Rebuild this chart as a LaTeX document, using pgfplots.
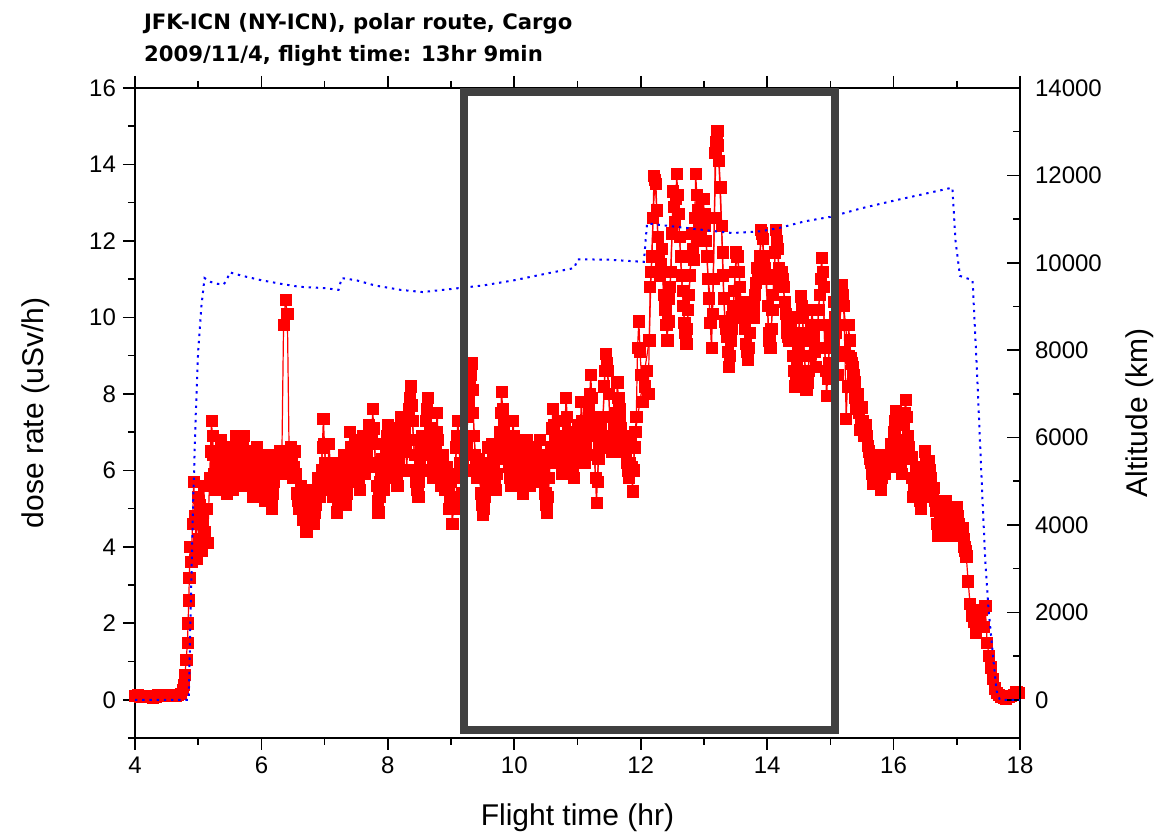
\documentclass[border=0pt]{standalone}
\usepackage{fontspec}
\setmainfont{Liberation Sans}
\newfontfamily\titlefont{DejaVu Sans}
\usepackage{pgfplots}
\pgfplotsset{compat=1.18}
\usepackage{pgfplotstable}
\definecolor{boxgray}{RGB}{64,64,64}

\pgfplotstableread{
t d
4.00 0.10
4.04 0.12
4.08 0.09
4.12 0.11
4.16 0.07
4.20 0.08
4.24 0.10
4.28 0.06
4.32 0.08
4.36 0.12
4.40 0.14
4.44 0.11
4.48 0.13
4.52 0.12
4.56 0.10
4.60 0.12
4.64 0.11
4.68 0.13
4.72 0.16
4.75 0.25
4.77 0.40
4.79 0.65
4.81 1.05
4.83 1.50
4.84 2.00
4.85 2.60
4.86 3.20
4.87 4.00
4.89 3.60
4.91 4.60
4.93 5.70
4.95 4.80
4.97 3.70
4.99 5.30
5.01 4.20
5.03 5.10
5.05 3.90
5.07 4.70
5.09 5.60
5.11 4.40
5.13 5.00
5.15 4.10
5.18 5.80
5.21 7.30
5.24 6.40
5.27 5.50
5.30 6.50
5.33 5.80
5.36 6.80
5.39 5.60
5.42 6.20
5.45 5.40
5.48 6.60
5.51 6.00
5.54 5.50
5.57 6.40
5.60 6.90
5.63 6.00
5.66 5.60
5.69 6.30
5.72 6.90
5.75 6.20
5.78 5.70
5.81 6.50
5.84 5.90
5.87 5.30
5.90 6.10
5.93 6.60
5.96 5.80
5.99 6.20
6.02 5.60
6.05 5.20
6.08 5.80
6.11 6.40
6.14 5.50
6.17 5.00
6.20 5.70
6.23 6.30
6.26 6.00
6.29 6.50
6.32 5.90
6.35 9.80
6.38 10.45
6.41 10.10
6.44 6.20
6.47 6.60
6.50 5.80
6.53 6.50
6.56 5.40
6.59 5.00
6.62 5.60
6.65 4.70
6.68 5.30
6.71 4.40
6.74 5.20
6.77 4.80
6.80 5.50
6.83 4.60
6.86 5.10
6.89 5.80
6.92 5.30
6.95 6.00
6.98 7.35
7.01 6.20
7.04 5.60
7.07 6.70
7.10 5.80
7.13 5.30
7.16 6.10
7.19 4.90
7.22 5.50
7.25 6.20
7.28 5.40
7.31 6.40
7.34 5.10
7.37 5.80
7.40 7.00
7.43 6.30
7.46 5.70
7.49 6.80
7.52 6.00
7.55 5.50
7.58 6.40
7.61 6.90
7.64 5.90
7.67 6.50
7.70 7.20
7.73 6.20
7.76 7.60
7.79 6.70
7.82 5.60
7.85 4.90
7.88 5.70
7.91 6.30
7.94 5.50
7.97 6.60
8.00 7.20
8.03 6.10
8.06 5.80
8.09 6.90
8.12 6.30
8.15 5.60
8.18 6.80
8.21 7.40
8.24 6.50
8.27 7.10
8.30 6.00
8.33 7.60
8.36 8.20
8.39 7.30
8.42 6.40
8.45 5.70
8.48 5.30
8.51 6.20
8.54 6.90
8.57 6.00
8.60 7.30
8.63 7.90
8.66 7.10
8.69 6.50
8.72 5.80
8.75 6.60
8.78 7.50
8.81 6.20
8.84 5.60
8.87 6.40
8.90 5.50
8.93 6.10
8.96 5.00
8.99 5.70
9.02 4.60
9.05 5.30
9.08 6.60
9.11 7.30
9.14 6.20
9.17 5.40
9.20 6.90
9.23 6.00
9.26 7.40
9.29 8.20
9.32 8.80
9.35 7.50
9.38 6.40
9.41 5.80
9.44 6.30
9.47 5.40
9.50 4.85
9.53 5.30
9.56 5.90
9.59 6.60
9.62 5.80
9.65 6.70
9.68 6.20
9.71 5.50
9.74 6.40
9.77 7.00
9.80 8.05
9.83 7.20
9.86 6.30
9.89 6.90
9.92 6.10
9.95 5.60
9.98 7.30
10.01 6.50
10.04 5.70
10.07 6.60
10.10 6.00
10.13 5.40
10.16 6.30
10.19 6.80
10.22 6.10
10.25 5.60
10.28 6.40
10.31 5.90
10.34 6.60
10.37 6.00
10.40 6.80
10.43 5.70
10.46 6.30
10.49 5.40
10.52 4.90
10.55 5.80
10.58 6.60
10.61 7.60
10.64 6.90
10.67 6.20
10.70 7.30
10.73 6.50
10.76 5.90
10.79 6.80
10.82 7.90
10.85 7.00
10.88 6.40
10.91 6.20
10.94 5.80
10.97 6.60
11.00 7.20
11.03 6.40
11.06 7.80
11.09 6.90
11.12 6.20
11.15 7.00
11.18 7.60
11.21 8.50
11.24 7.40
11.27 6.40
11.30 5.15
11.33 6.30
11.36 7.10
11.39 6.60
11.42 8.20
11.45 9.05
11.48 8.60
11.51 7.40
11.54 6.50
11.57 7.20
11.60 6.80
11.63 8.30
11.66 7.60
11.69 7.10
11.72 6.50
11.75 6.90
11.78 6.20
11.81 5.80
11.84 6.70
11.87 5.45
11.90 6.60
11.93 7.40
11.95 9.20
11.97 9.90
11.99 9.10
12.01 8.50
12.03 7.80
12.06 8.20
12.09 8.60
12.12 8.00
12.15 10.80
12.18 11.60
12.21 13.70
12.24 13.50
12.27 12.10
12.30 11.10
12.33 11.80
12.36 10.60
12.39 10.20
12.42 9.40
12.45 10.50
12.48 11.20
12.51 13.30
12.54 12.50
12.57 13.75
12.60 12.70
12.63 11.60
12.66 10.70
12.69 9.85
12.72 9.30
12.75 10.20
12.78 11.10
12.81 12.20
12.84 11.50
12.87 13.75
12.90 12.80
12.93 12.00
12.96 12.40
12.99 13.10
13.02 12.40
13.05 11.60
13.08 10.50
13.10 9.85
13.12 9.20
13.15 11.00
13.18 14.30
13.21 14.88
13.24 14.10
13.26 13.40
13.28 12.40
13.30 11.10
13.33 9.90
13.36 9.50
13.39 8.70
13.42 9.40
13.45 10.00
13.48 10.70
13.51 11.70
13.54 11.60
13.57 10.80
13.60 10.00
13.63 10.20
13.66 9.30
13.69 8.90
13.72 9.60
13.75 10.40
13.78 10.00
13.81 10.60
13.84 11.30
13.87 11.00
13.90 12.30
13.93 12.05
13.96 11.30
13.99 11.00
14.02 9.60
14.05 9.20
14.08 10.20
14.11 11.10
14.14 12.30
14.17 11.80
14.20 10.80
14.23 11.20
14.26 10.80
14.29 10.10
14.32 9.60
14.35 9.40
14.38 10.00
14.41 9.00
14.44 8.20
14.47 8.80
14.50 9.60
14.53 10.55
14.56 10.00
14.59 9.00
14.62 8.10
14.65 8.60
14.68 9.40
14.71 10.20
14.74 9.50
14.77 8.70
14.80 9.80
14.83 10.60
14.86 11.55
14.89 10.80
14.91 9.20
14.94 7.95
14.97 8.80
15.00 9.80
15.03 9.20
15.06 10.40
15.09 9.60
15.12 8.50
15.15 9.80
15.18 10.85
15.21 10.30
15.23 9.10
15.25 7.35
15.27 8.20
15.29 9.80
15.32 8.95
15.35 8.70
15.38 8.30
15.41 7.60
15.44 8.00
15.47 7.05
15.50 7.65
15.53 6.90
15.56 7.20
15.59 6.65
15.62 6.30
15.65 6.10
15.68 5.65
15.71 6.40
15.74 6.00
15.77 6.30
15.80 5.50
15.83 6.20
15.86 5.90
15.89 6.40
15.92 6.10
15.95 6.70
15.98 6.50
16.01 7.00
16.04 7.55
16.07 6.80
16.10 6.40
16.13 5.90
16.16 7.20
16.19 7.85
16.22 6.90
16.25 6.30
16.28 6.35
16.31 5.30
16.34 5.80
16.37 6.10
16.40 5.50
16.43 5.00
16.46 5.60
16.49 6.50
16.52 5.90
16.55 6.25
16.58 5.80
16.61 5.30
16.64 5.55
16.67 4.95
16.70 4.30
16.73 4.80
16.76 5.10
16.79 4.60
16.82 5.20
16.85 4.70
16.88 4.30
16.91 4.90
16.94 4.50
16.97 4.45
17.00 5.05
17.03 4.60
17.06 4.30
17.09 4.50
17.12 4.00
17.15 3.75
17.18 3.10
17.21 2.50
17.24 2.20
17.27 2.05
17.30 1.75
17.33 2.30
17.36 2.00
17.39 2.35
17.42 1.90
17.45 2.45
17.48 1.50
17.51 1.15
17.54 0.85
17.57 0.55
17.60 0.30
17.63 0.18
17.66 0.12
17.70 0.08
17.74 0.05
17.78 0.04
17.82 0.07
17.86 0.10
17.90 0.14
17.94 0.20
17.98 0.18
}\dosedata

\pgfplotstableread{
t d
5.195 6.5
5.225 6.9
5.255 5.9
5.285 6.1
5.315 6.2
5.345 6.3
5.375 6.2
5.405 5.9
5.435 5.8
5.465 6.0
5.495 6.3
5.525 5.8
5.555 5.9
5.585 6.6
5.615 6.4
5.645 5.8
5.675 5.9
5.705 6.6
5.735 6.5
5.765 5.9
5.795 6.1
5.825 6.2
5.855 5.6
5.885 5.7
5.915 6.3
5.945 6.2
5.975 6.0
6.005 5.9
6.035 5.4
6.065 5.5
6.095 6.1
6.125 5.9
6.155 5.3
6.185 5.4
6.215 6.0
6.245 6.1
6.275 6.2
6.305 6.2
6.335 6.0
6.455 6.4
6.485 6.2
6.515 6.1
6.545 5.9
6.575 5.2
6.605 5.3
6.635 5.1
6.665 5.0
6.695 4.9
6.725 4.8
6.755 5.0
6.785 5.1
6.815 5.0
6.845 4.9
6.875 5.4
6.905 5.5
6.935 5.6
6.965 6.6
6.995 6.7
7.025 5.9
7.055 6.1
7.085 6.2
7.115 5.5
7.145 5.7
7.175 5.5
7.205 5.2
7.235 5.8
7.265 5.8
7.295 5.9
7.325 5.7
7.355 5.4
7.385 6.4
7.415 6.6
7.445 6.0
7.475 6.2
7.505 6.4
7.535 5.7
7.565 5.9
7.595 6.6
7.625 6.4
7.655 6.2
7.685 6.8
7.715 6.7
7.745 6.9
7.775 7.1
7.805 6.1
7.835 5.2
7.865 5.3
7.895 6.0
7.925 5.9
7.955 6.0
7.985 6.9
8.015 6.6
8.045 5.9
8.075 6.3
8.105 6.6
8.135 5.9
8.165 6.2
8.195 7.1
8.225 6.9
8.255 6.8
8.285 6.5
8.315 6.8
8.345 7.9
8.375 7.7
8.405 6.8
8.435 6.0
8.465 5.5
8.495 5.7
8.525 6.5
8.555 6.4
8.585 6.6
8.615 7.6
8.645 7.5
8.675 6.8
8.705 6.1
8.735 6.2
8.765 7.0
8.795 6.8
8.825 5.9
8.855 6.0
8.885 5.9
8.915 5.8
8.945 5.5
8.975 5.3
9.005 5.1
9.035 5.0
9.065 5.9
9.095 6.9
9.125 6.7
9.155 5.8
9.185 6.1
9.215 6.4
9.245 6.7
9.275 7.8
9.305 8.5
9.335 8.1
9.365 6.9
9.395 6.1
9.425 6.0
9.455 5.8
9.485 5.1
9.515 5.0
9.545 5.6
9.575 6.2
9.605 6.2
9.635 6.2
9.665 6.4
9.695 5.8
9.725 5.9
9.755 6.7
9.785 7.5
9.815 7.6
9.845 6.7
9.875 6.6
9.905 6.5
9.935 5.8
9.965 6.4
9.995 6.9
10.025 6.1
10.055 6.1
10.085 6.3
10.115 5.7
10.145 5.8
10.175 6.5
10.205 6.4
10.235 5.8
10.265 6.0
10.295 6.1
10.325 6.2
10.355 6.3
10.385 6.4
10.415 6.2
10.445 6.0
10.475 5.8
10.505 5.1
10.535 5.3
10.565 6.2
10.595 7.1
10.625 7.2
10.655 6.5
10.685 6.7
10.715 6.9
10.745 6.2
10.775 6.3
10.805 7.3
10.835 7.4
10.865 6.7
10.895 6.3
10.925 6.0
10.955 6.2
10.985 6.9
11.015 6.8
11.045 7.1
11.075 7.3
11.105 6.5
11.135 6.6
11.165 7.3
11.195 8.0
11.225 7.9
11.255 6.9
11.285 5.8
11.315 5.7
11.345 6.7
11.375 6.8
11.405 7.4
11.435 8.6
11.465 8.8
11.495 8.0
11.525 6.9
11.555 6.8
11.585 7.0
11.615 7.5
11.645 7.9
11.675 7.3
11.705 6.8
11.735 6.7
11.765 6.5
11.795 6.0
11.825 6.2
11.855 6.1
11.885 6.0
11.915 7.0
12.135 9.4
12.165 11.2
12.195 12.6
12.225 13.6
12.255 12.8
12.285 11.6
12.315 11.4
12.345 11.2
12.375 10.4
12.405 9.8
12.435 9.9
12.465 10.8
12.495 12.2
12.525 12.9
12.555 13.1
12.585 13.2
12.615 12.1
12.645 11.1
12.675 10.3
12.705 9.6
12.735 9.7
12.765 10.6
12.795 11.6
12.825 11.8
12.855 12.6
12.885 13.2
12.915 12.4
12.945 12.2
12.975 12.7
13.005 12.7
13.035 12.0
13.065 11.0
13.135 10.1
13.165 12.6
13.195 14.6
13.225 14.5
13.295 11.7
13.315 10.5
13.345 9.7
13.375 9.1
13.405 9.0
13.435 9.7
13.465 10.3
13.495 11.2
13.525 11.6
13.555 11.2
13.585 10.4
13.615 10.1
13.645 9.7
13.675 9.1
13.705 9.2
13.735 10.0
13.765 10.2
13.795 10.3
13.825 10.9
13.855 11.1
13.885 11.6
13.915 12.2
13.945 11.6
13.975 11.1
14.005 10.3
14.035 9.4
14.065 9.7
14.095 10.6
14.125 11.7
14.155 12.0
14.185 11.3
14.215 11.0
14.245 11.0
14.275 10.4
14.305 9.8
14.335 9.5
14.365 9.7
14.395 9.5
14.425 8.6
14.455 8.5
14.485 9.2
14.515 10.0
14.545 10.3
14.575 9.5
14.605 8.5
14.635 8.3
14.665 9.0
14.695 9.8
14.725 9.8
14.755 9.1
14.785 9.2
14.815 10.2
14.845 11.0
14.875 11.2
14.925 8.6
14.955 8.4
14.985 9.3
15.015 9.5
15.045 9.8
15.075 10.0
15.105 9.0
15.135 9.1
15.165 10.3
15.195 10.6
15.285 9.0
15.305 9.4
15.335 8.8
15.365 8.5
15.395 7.9
15.425 7.8
15.455 7.5
15.485 7.3
15.515 7.3
15.545 7.0
15.575 6.9
15.605 6.5
15.635 6.2
15.665 5.9
15.695 6.0
15.725 6.2
15.755 6.1
15.785 5.9
15.815 5.8
15.845 6.0
15.875 6.1
15.905 6.2
15.935 6.4
15.965 6.6
15.995 6.7
16.025 7.3
16.055 7.2
16.085 6.6
16.115 6.1
16.145 6.5
16.175 7.5
16.205 7.4
16.235 6.6
16.265 6.3
16.295 5.8
16.325 5.5
16.355 6.0
16.385 5.8
16.415 5.2
16.445 5.3
16.475 6.0
16.505 6.2
16.535 6.0
16.565 6.0
16.595 5.5
16.625 5.4
16.655 5.2
16.685 4.6
16.715 4.5
16.745 5.0
16.775 4.8
16.805 4.9
16.835 5.0
16.865 4.5
16.895 4.6
16.925 4.7
16.955 4.5
16.985 4.7
17.015 4.8
17.045 4.5
17.075 4.4
17.105 4.2
17.135 3.9
}\dosefill

\pgfplotstableread{
t a
4.00 0
4.85 0
4.88 2000
4.92 4500
4.96 6500
5.00 8000
5.05 9000
5.10 9650
5.20 9560
5.30 9520
5.40 9500
5.45 9600
5.50 9780
5.70 9700
6.00 9600
6.30 9520
6.60 9450
7.00 9420
7.22 9380
7.27 9650
7.50 9600
7.80 9480
8.20 9380
8.55 9330
9.00 9400
9.50 9480
10.00 9600
10.50 9750
10.95 9880
11.00 10080
11.50 10070
12.05 10020
12.10 10900
12.40 10850
13.00 10750
13.45 10680
13.90 10720
14.20 10800
14.60 10950
15.00 11050
15.50 11250
16.00 11420
16.50 11580
16.93 11720
16.98 10500
17.05 9700
17.25 9600
17.32 7500
17.40 4800
17.45 3200
17.50 2100
17.58 900
17.63 200
17.68 0
18.00 0
}\altdata

\begin{document}
\begin{tikzpicture}
\path[use as bounding box] (-67.5pt,-50pt) rectangle (511pt,369pt);
\begin{axis}[
  at={(0,0)}, anchor=south west,
  width=442.5pt, height=325pt, scale only axis,
  xmin=4, xmax=18, ymin=-1, ymax=16,
  xtick={4,6,...,18}, minor xtick={5,7,...,17},
  ytick={0,2,...,16}, minor ytick={-1,1,...,15},
  ytick pos=left, xtick pos=both,
  tick align=outside,
  major tick length=6pt, minor tick length=3.5pt,
  tick style={black, line width=0.8pt},
  axis line style={line width=0.8pt},
  /pgf/number format/assume math mode=true,
  ticklabel style={font=\fontsize{12}{14}\selectfont},
  xlabel={Flight time (hr)},
  ylabel={dose rate (uSv/h)},
  label style={font=\fontsize{15}{18}\selectfont},
  xlabel style={at={(rel axis cs:0.5,0)}, anchor=center, yshift=-40pt},
  ylabel style={at={(rel axis cs:0,0.5)}, anchor=center, yshift=49.5pt},
  clip=false,
]
\addplot[red, line width=0.6pt, mark=square*, mark size=2.8pt,
  mark options={fill=red, draw=red, line width=0.3pt}] table[x=t, y=d] {\dosefill};
\addplot[red, line width=0.6pt, mark=square*, mark size=2.8pt,
  mark options={fill=red, draw=red, line width=0.3pt}] table[x=t, y=d] {\dosedata};
\node[anchor=west, font=\titlefont\bfseries\fontsize{10.6}{12}\selectfont] at ([xshift=1pt, yshift=32pt]rel axis cs:0,1) {JFK-ICN (NY-ICN), polar route, Cargo};
\node[anchor=west, font=\titlefont\bfseries\fontsize{10.6}{12}\selectfont] at ([xshift=1pt, yshift=16pt]rel axis cs:0,1) {2009/11/4, flight time: 13hr 9min};
\end{axis}
\begin{axis}[
  at={(0,0)}, anchor=south west,
  width=442.5pt, height=325pt, scale only axis,
  xmin=4, xmax=18, ymin=-875, ymax=14000,
  axis x line=none, axis y line*=right,
  ytick={0,2000,...,14000}, minor ytick={1000,3000,...,13000},
  tick align=inside,
  major tick length=6.5pt, minor tick length=3.5pt,
  tick style={black, line width=0.8pt},
  axis line style={line width=0.8pt},
  scaled y ticks=false,
  /pgf/number format/assume math mode=true,
  /pgf/number format/set thousands separator={},
  ticklabel style={font=\fontsize{12}{14}\selectfont},
  yticklabel style={xshift=4pt},
  ylabel={Altitude (km)},
  label style={font=\fontsize{15}{18}\selectfont},
  ylabel style={at={(rel axis cs:1,0.5)}, anchor=center, yshift=-60pt},
  clip=false,
]
\addplot[blue, line width=1pt, dash pattern=on 1.2pt off 2.4pt] table[x=t, y=a] {\altdata};
\draw[boxgray, line width=4pt] (rel axis cs:0.3714,0.0118) rectangle (rel axis cs:0.7907,0.9941);
\end{axis}
\end{tikzpicture}
\end{document}
